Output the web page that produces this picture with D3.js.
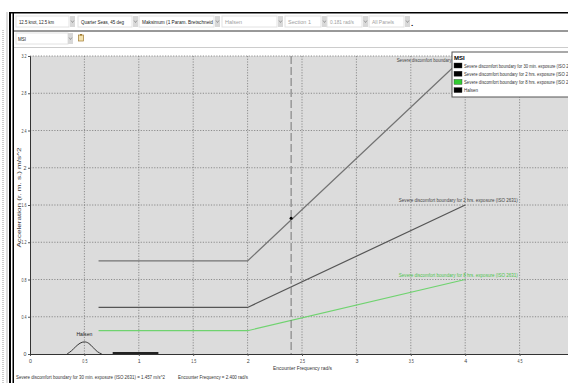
<!DOCTYPE html>
<html>
<head>
<meta charset="utf-8">
<script src="https://cdn.jsdelivr.net/npm/d3@7"></script>
<style>
  body { margin: 0; background: #fff; }
  svg { display: block; font-family: "Liberation Sans", Arial, sans-serif; }
</style>
</head>
<body>
<div id="chart"></div>
<script>
// data
const freq30 = [0.63, 2.0, 4.0];
const acc30 = [1.0, 1.0, 3.2];
const freq2h = [0.63, 2.0, 4.0];
const acc2h = [0.5, 0.5, 1.6];
const freq8h = [0.63, 2.0, 4.0];
const acc8h = [0.25, 0.25, 0.8];
const halsenFreq = [0.34, 0.38, 0.42, 0.46, 0.5, 0.54, 0.58, 0.62, 0.66];
const halsenAcc = [0.0, 0.03, 0.08, 0.12, 0.135, 0.12, 0.07, 0.02, 0.0];
const halsenBar = [0.76, 1.18];
const xTicks = [0, 0.5, 1, 1.5, 2, 2.5, 3, 3.5, 4, 4.5];
const yTicks = [0, 0.4, 0.8, 1.2, 1.6, 2.0, 2.4, 2.8, 3.2];
const selFreq = 2.4;
const selAcc = 1.457;
const seriesNames = [
  "Severe discomfort boundary for 30 min. exposure (ISO 2631)",
  "Severe discomfort boundary for 2 hrs. exposure (ISO 2631)",
  "Severe discomfort boundary for 8 hrs. exposure (ISO 2631)",
  "Halsen"
];
const seriesColors = ["#000000", "#000000", "#33cc33", "#000000"];
const toolbarFields = [
  { text: "12.5 knot, 12.5 km", x: 16, w: 53, tw: 35, grey: false },
  { text: "Quarter Seas, 45 deg", x: 78, w: 54, tw: 43, grey: false },
  { text: "Maksimum (1 Param. Bretschneid", x: 139, w: 75, tw: 71, grey: false },
  { text: "Halsen", x: 222, w: 55, tw: 17, grey: true },
  { text: "Section 1", x: 285, w: 36, tw: 23, grey: true },
  { text: "0.181 rad/s", x: 327, w: 35, tw: 24, grey: true },
  { text: "All Panels", x: 369, w: 35, tw: 22, grey: true }
];

const W = 568, H = 383;
const PLOT_LEFT = 30, PLOT_RIGHT = 574, PLOT_TOP = 56, PLOT_BOTTOM = 354;

// squeeze a text to the width it has in the picture (fonts there are narrow)
function fit(sel, width) {
  sel.attr("textLength", width).attr("lengthAdjust", "spacingAndGlyphs");
  return sel;
}

const svg = d3.select("#chart").append("svg").attr("width", W).attr("height", H);

//******************** frame / toolbar ********************
svg.append("line").attr("x1", 3).attr("x2", 3).attr("y1", 30).attr("y2", 383)
  .attr("stroke", "#999").attr("stroke-dasharray", "1,1");
svg.append("line").attr("x1", 7).attr("x2", 7).attr("y1", 12).attr("y2", 383).attr("stroke", "#bbb");
svg.append("rect").attr("x", 9).attr("y", 12).attr("width", 2).attr("height", 371).attr("fill", "#000");
svg.append("rect").attr("x", 12.5).attr("y", 12).attr("width", 1.5).attr("height", 371).attr("fill", "#000");
svg.append("rect").attr("x", 9).attr("y", 12).attr("width", 559).attr("height", 1.5).attr("fill", "#000");
svg.append("line").attr("x1", 14).attr("x2", 568).attr("y1", 31).attr("y2", 31).attr("stroke", "#333");
svg.append("line").attr("x1", 14).attr("x2", 568).attr("y1", 47.5).attr("y2", 47.5).attr("stroke", "#ccc");

function dropButton(g, bx, by) {
  g.append("rect").attr("x", bx).attr("y", by).attr("width", 5).attr("height", 11).attr("fill", "#d8d8d8");
  g.append("path").attr("d", `M${bx + 1},${by + 4.5}L${bx + 2.5},${by + 6.5}L${bx + 4},${by + 4.5}`)
    .attr("fill", "none").attr("stroke", "#777").attr("stroke-width", 0.6);
}

const tb = svg.append("g");
toolbarFields.forEach(f => {
  tb.append("rect").attr("x", f.x).attr("y", 16).attr("width", f.w).attr("height", 11)
    .attr("fill", "#fff").attr("stroke", "#e2e2e2");
  fit(tb.append("text").attr("x", f.x + 3).attr("y", 24).attr("font-size", 5.5)
    .attr("fill", f.grey ? "#a0a0a0" : "#222").text(f.text), f.tw);
  dropButton(tb, f.x + f.w + 1, 16);
});
tb.append("text").attr("x", 411).attr("y", 26).attr("font-size", 8).attr("font-weight", "bold").text(".");
tb.append("rect").attr("x", 16).attr("y", 33).attr("width", 52).attr("height", 11).attr("fill", "#fff").attr("stroke", "#e2e2e2");
fit(tb.append("text").attr("x", 18).attr("y", 41).attr("font-size", 5.8).attr("fill", "#222").text("MSI"), 8);
dropButton(tb, 68, 33);
tb.append("rect").attr("x", 78.5).attr("y", 35).attr("width", 5).attr("height", 6).attr("fill", "#f4e3b0").attr("stroke", "#a07a30").attr("stroke-width", 0.7);
tb.append("rect").attr("x", 80).attr("y", 34).attr("width", 2).attr("height", 1.5).attr("fill", "#a07a30");

//******************** scales ********************
const x = d3.scaleLinear().domain([0, 5]).range([PLOT_LEFT, PLOT_RIGHT]);
const y = d3.scaleLinear().domain([0, 3.2]).range([PLOT_BOTTOM, PLOT_TOP]);

svg.append("rect").attr("x", PLOT_LEFT).attr("y", PLOT_TOP)
  .attr("width", W - PLOT_LEFT).attr("height", PLOT_BOTTOM - PLOT_TOP).attr("fill", "#dcdcdc");

svg.append("clipPath").attr("id", "plotclip").append("rect")
  .attr("x", PLOT_LEFT).attr("y", PLOT_TOP - 1).attr("width", W - PLOT_LEFT).attr("height", PLOT_BOTTOM - PLOT_TOP + 1);

// grid
const grid = svg.append("g");
grid.selectAll(".gx").data(xTicks.filter(d => d > 0)).join("line")
  .attr("x1", d => x(d)).attr("x2", d => x(d)).attr("y1", PLOT_TOP).attr("y2", PLOT_BOTTOM)
  .attr("stroke", "#777").attr("stroke-width", 0.8).attr("stroke-dasharray", "1.2,1.5");
grid.selectAll(".gy").data(yTicks.filter(d => d > 0)).join("line")
  .attr("x1", PLOT_LEFT).attr("x2", W).attr("y1", d => y(d)).attr("y2", d => y(d))
  .attr("stroke", "#777").attr("stroke-width", 0.8).attr("stroke-dasharray", "1.2,1.5");

// axes
const xAxis = svg.append("g").attr("transform", `translate(0,${PLOT_BOTTOM})`)
  .call(d3.axisBottom(x).tickValues(xTicks).tickSize(2).tickPadding(2).tickFormat(d3.format("~g")));
const yAxis = svg.append("g").attr("transform", `translate(${PLOT_LEFT},0)`)
  .call(d3.axisLeft(y).tickValues(yTicks).tickSize(2).tickPadding(1.5).tickFormat(d3.format("~g")));
[xAxis, yAxis].forEach(a => {
  a.select(".domain").attr("stroke", "#333");
  a.selectAll(".tick line").attr("stroke", "#555");
  a.selectAll("text").attr("font-size", 5.3).attr("fill", "#444").attr("font-family", null)
    .each(function() {
      const n = this.textContent.length;
      if (n > 1) fit(d3.select(this), n * 1.7);
    });
});
xAxis.selectAll("text").attr("dy", "1em");

fit(svg.append("text").attr("x", x(2.5) - 29).attr("y", 370)
  .attr("font-size", 5.8).attr("fill", "#333").text("Encounter Frequency  rad/s"), 59);
fit(svg.append("text").attr("transform", `translate(20.5,${y(1.68) + 50}) rotate(-90)`)
  .attr("font-size", 5).attr("fill", "#333").text("Acceleration  (r. m. s.)   m/s^2"), 100);

//******************** series ********************
const line = d3.line().x(d => x(d[0])).y(d => y(d[1]));
const plot = svg.append("g").attr("clip-path", "url(#plotclip)");

plot.append("path").datum(d3.zip(freq30, acc30)).attr("d", line)
  .attr("fill", "none").attr("stroke", "#737373").attr("stroke-width", 1.2);
plot.append("path").datum(d3.zip(freq2h, acc2h)).attr("d", line)
  .attr("fill", "none").attr("stroke", "#555").attr("stroke-width", 1.2);
plot.append("path").datum(d3.zip(freq8h, acc8h)).attr("d", line)
  .attr("fill", "none").attr("stroke", "#6fd36f").attr("stroke-width", 1.2);
plot.append("path").datum(d3.zip(halsenFreq, halsenAcc)).attr("d", d3.line().curve(d3.curveBasis).x(d => x(d[0])).y(d => y(d[1])))
  .attr("fill", "none").attr("stroke", "#333").attr("stroke-width", 1);
plot.append("line").attr("x1", x(halsenBar[0])).attr("x2", x(halsenBar[1]))
  .attr("y1", y(0) - 1).attr("y2", y(0) - 1).attr("stroke", "#222").attr("stroke-width", 2);

fit(svg.append("text").attr("x", x(0.5) - 8).attr("y", y(0.19))
  .attr("font-size", 5.5).attr("fill", "#222").text("Halsen"), 16);

// series labels
fit(svg.append("text").attr("x", x(3.37)).attr("y", y(3.14))
  .attr("font-size", 5.8).attr("fill", "#444").text(seriesNames[0]), 119);
fit(svg.append("text").attr("x", x(3.39)).attr("y", y(1.63))
  .attr("font-size", 5.8).attr("fill", "#444").text(seriesNames[1]), 119);
fit(svg.append("text").attr("x", x(3.39)).attr("y", y(0.83))
  .attr("font-size", 5.8).attr("fill", "#4cc44c").text(seriesNames[2]), 119);

// selected frequency marker
svg.append("line").attr("x1", x(selFreq)).attr("x2", x(selFreq)).attr("y1", PLOT_TOP).attr("y2", PLOT_BOTTOM)
  .attr("stroke", "#777").attr("stroke-width", 1).attr("stroke-dasharray", "8,3");
svg.append("circle").attr("cx", x(selFreq)).attr("cy", y(selAcc)).attr("r", 1.5).attr("fill", "#000");

//******************** legend ********************
const lg = svg.append("g").attr("transform", "translate(452,52)");
lg.append("rect").attr("width", 120).attr("height", 45).attr("fill", "#fff").attr("stroke", "#555");
lg.append("text").attr("x", 2).attr("y", 7.5).attr("font-size", 6).attr("font-weight", "bold").text("MSI");
lg.selectAll(".sw").data(seriesNames).join("rect")
  .attr("x", 2).attr("y", (d, i) => 11 + i * 8.2).attr("width", 8).attr("height", 5)
  .attr("fill", (d, i) => seriesColors[i]).attr("stroke", "#333").attr("stroke-width", 0.4);
lg.selectAll(".lt").data(seriesNames).join("text")
  .attr("x", 12).attr("y", (d, i) => 15.5 + i * 8.2).attr("font-size", 5).attr("fill", "#333").text(d => d)
  .each(function(d) {
    if (d.length > 10) fit(d3.select(this), 113);
    else fit(d3.select(this), 14);
  });

//******************** footer ********************
fit(svg.append("text").attr("x", 16).attr("y", 379).attr("font-size", 5.8).attr("fill", "#333")
  .text(`${seriesNames[0]} =  ${selAcc.toFixed(3)} m/s^2`), 149);
fit(svg.append("text").attr("x", 178).attr("y", 379).attr("font-size", 5.8).attr("fill", "#333")
  .text(`Encounter Frequency =  ${selFreq.toFixed(3)} rad/s`), 70);
</script>
</body>
</html>
